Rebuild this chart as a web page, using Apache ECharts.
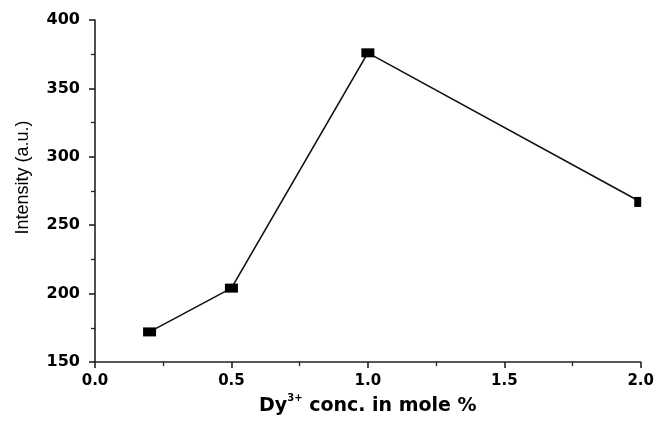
<!DOCTYPE html>
<html>
<head>
<meta charset="utf-8">
<script src="https://cdn.jsdelivr.net/npm/echarts@6/dist/echarts.min.js"></script>
<style>
  html, body { margin: 0; padding: 0; background: #fff; }
  #chart { width: 657px; height: 425px; }
</style>
</head>
<body>
<div id="chart"></div>
<script>
// Dy3+ concentration (mole %) vs. intensity (a.u.)
var concentration = [0.2, 0.5, 1.0, 2.0];
var intensity = [172, 204, 376, 267];

var chart = echarts.init(document.getElementById('chart'));

var points = concentration.map(function (x, i) {
  var p = { value: [x, intensity[i]] };
  // last marker sits on the plot edge and looks cut in half
  if (i === concentration.length - 1) {
    p.symbolSize = [7, 10];
    p.symbolOffset = [-3, 0];
  }
  return p;
});

var axisColor = '#222';

chart.setOption({
  animation: false,
  backgroundColor: '#fff',
  grid: { left: 95, right: 14, top: 20, bottom: 63, containLabel: false },
  xAxis: {
    type: 'value',
    min: 0,
    max: 2,
    interval: 0.5,
    name: '{a|Dy}{s|3+}{a| conc. in mole %}',
    nameLocation: 'middle',
    nameGap: 30,
    nameTextStyle: {
      rich: {
        a: { fontFamily: 'DejaVu Sans', fontWeight: 'bold', fontSize: 19, lineHeight: 24, color: '#000' },
        s: { fontFamily: 'DejaVu Sans', fontWeight: 'bold', fontSize: 10, lineHeight: 12, color: '#000', verticalAlign: 'top', padding: [0, 0, 8, 0] }
      }
    },
    axisLine: { show: true, lineStyle: { color: axisColor, width: 1.6 } },
    axisTick: { show: true, inside: false, length: 6, lineStyle: { color: axisColor, width: 1.6 } },
    minorTick: { show: true, splitNumber: 2, length: 4, lineStyle: { color: axisColor, width: 1.3 } },
    splitLine: { show: false },
    axisLabel: {
      margin: 12,
      color: '#000', fontFamily: 'DejaVu Sans', fontWeight: 'bold', fontSize: 15,
      formatter: function (v) { return v.toFixed(1); }
    }
  },
  yAxis: {
    type: 'value',
    min: 150,
    max: 400,
    interval: 50,
    name: 'Intensity (a.u.)',
    nameLocation: 'middle',
    nameRotate: 90,
    nameGap: 63,
    nameTextStyle: { fontFamily: 'Liberation Sans', fontSize: 18, color: '#000', padding: [0, 0, 0, 27] },
    axisLine: { show: true, lineStyle: { color: axisColor, width: 1.6 } },
    axisTick: { show: true, inside: false, length: 6, lineStyle: { color: axisColor, width: 1.6 } },
    minorTick: { show: true, splitNumber: 2, length: 4, lineStyle: { color: axisColor, width: 1.3 } },
    splitLine: { show: false },
    axisLabel: { margin: 15, color: '#000', fontFamily: 'DejaVu Sans', fontWeight: 'bold', fontSize: 16 }
  },
  series: [
    {
      type: 'line',
      data: points,
      clip: false,
      symbol: 'rect',
      symbolSize: [13, 9],
      showAllSymbol: true,
      lineStyle: { color: '#111', width: 1.6 },
      itemStyle: { color: '#000' }
    }
  ]
});
</script>
</body>
</html>
